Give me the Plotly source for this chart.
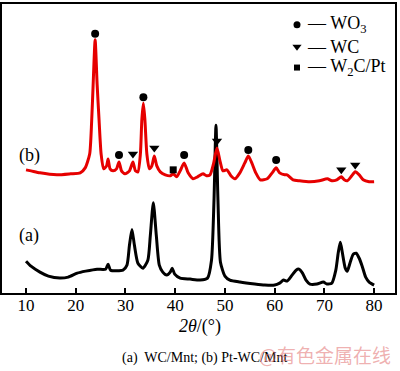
import plotly.graph_objects as go

# ---- data: curve (a) WC/Mnt (2theta, intensity a.u.) ----
a_x = [10, 11, 12.8, 14.5, 16.8, 18.5, 20.3, 22, 24.3, 26, 26.5, 27, 29.5, 30.3, 30.8, 31.3, 31.8, 32.5,
       33.5, 34.5, 35.0, 35.6, 36.2, 36.8, 37.5, 38.3, 39.0, 39.4, 39.9, 41, 43, 45, 46.5, 47.3, 47.8,
       48.2, 48.6, 49.1, 50, 51, 53, 56, 58, 60, 61, 61.8, 62.5, 63.5, 64.3, 64.9, 65.6, 66.3, 67.1,
       68.5, 69.8, 70.5, 71.5, 72.3, 72.8, 73.2, 73.6, 74.2, 74.6, 75.2, 75.8, 76.4, 77.0, 77.6, 78.3,
       79, 80]
a_y = [32, 27, 21, 17, 15, 16, 20, 22, 24, 24, 29, 23, 23, 28, 48, 64, 48, 30,
       25, 33, 58, 91, 58, 28, 21, 18, 21, 25, 19, 15, 14, 13, 15, 33, 93,
       169, 93, 31, 17, 13, 11, 9, 8, 8, 10, 13, 12, 18, 23, 24, 20, 13, 9,
       9, 11, 9, 10, 23, 41, 51, 41, 25, 22, 31, 39, 40, 35, 27, 16,
       11, 8]

# ---- data: curve (b) Pt-WC/Mnt ----
b_x = [10, 11, 12.8, 16.2, 19, 20.9, 21.9, 22.8, 23.2, 23.5, 23.9, 24.3, 24.7, 25.1, 25.6, 26.2, 26.5,
       26.9, 27.5, 28.2, 28.7, 29.2, 29.9, 30.8, 31.5, 32.0, 32.5, 33.0, 33.3, 33.6, 33.9, 34.3, 34.8,
       35.3, 35.8, 36.3, 37, 38, 39, 39.6, 40.3, 41.0, 41.8, 42.6, 43.6, 44.5, 45.6, 46.3, 47.0, 47.7,
       48.4, 49.0, 49.6, 50.4, 51.2, 52, 53.0, 54.0, 54.7, 55.4, 56.2, 57.1, 58.5, 59.5, 60.3, 61.0,
       62.0, 62.5, 63.7, 65, 67.1, 69, 70.6, 71.5, 72.5, 73.4, 74, 74.6, 75.5, 76.2, 77, 77.8, 79, 80]
b_y = [124, 123, 121, 119, 120, 121, 126, 140, 173, 210, 255, 210, 173, 140, 125, 128, 135,
       125, 123, 125, 132, 123, 120, 123, 132, 123, 122, 140, 175, 191, 175, 140, 125,
       128, 138, 128, 122, 119, 118, 120, 117, 123, 131, 121, 115, 117, 120, 118, 119, 130,
       146, 133, 123, 124, 118, 115, 121, 131, 138, 131, 121, 114, 115, 121, 126, 121,
       119, 119, 114, 113, 112, 113, 115, 113, 114, 117, 114, 113, 118, 122, 119, 114, 112, 112]

# ---- peak markers ----
wo3_x = [23.9, 28.7, 33.6, 41.8, 54.7, 60.3]
wo3_y = [261, 139, 197, 139, 144, 134]
wc_x = [31.5, 35.8, 48.4, 73.4, 76.2]
wc_y = [140, 146, 153, 124, 129]
w2c_x = [39.6]
w2c_y = [124]

legend_names = ["— WO<sub>3</sub>", "— WC", "— W<sub>2</sub>C/Pt"]
tick_vals = [10, 20, 30, 40, 50, 60, 70, 80]

XR = [5.17, 84.2]
YR = [0, 291]
SERIF = "Liberation Serif, Times New Roman, serif"

fig = go.Figure()
fig.add_trace(go.Scatter(x=a_x, y=a_y, mode="lines", line=dict(color="black", width=3, shape="spline", smoothing=0.6),
                         showlegend=False))
fig.add_trace(go.Scatter(x=b_x, y=b_y, mode="lines", line=dict(color="#e60000", width=3, shape="spline", smoothing=0.6),
                         showlegend=False))
fig.add_trace(go.Scatter(x=wo3_x, y=wo3_y, mode="markers",
                         marker=dict(symbol="circle", size=8, color="black"), showlegend=False))
fig.add_trace(go.Scatter(x=wc_x, y=wc_y, mode="markers",
                         marker=dict(symbol="triangle-down", size=9, color="black"), showlegend=False))
fig.add_trace(go.Scatter(x=w2c_x, y=w2c_y, mode="markers",
                         marker=dict(symbol="square", size=7, color="black"), showlegend=False))

# legend keys (layout positions in paper fraction converted to axis units)
def px_to_data(px, py):
    fx = (px - 2) / 393
    fy = (293 - py) / 291
    return XR[0] + fx * (XR[1] - XR[0]), YR[0] + fy * (YR[1] - YR[0])

key_syms = [("circle", 7), ("triangle-down", 8), ("square", 6)]
key_py = [23, 45, 66]
for (sym, sz), py in zip(key_syms, key_py):
    kx, ky = px_to_data(297, py)
    fig.add_trace(go.Scatter(x=[kx], y=[ky], mode="markers",
                             marker=dict(symbol=sym, size=sz, color="black"), showlegend=False))
for name, py in zip(legend_names, key_py):
    fig.add_annotation(x=(305 - 2) / 393, y=(293 - py) / 291, xref="paper", yref="paper",
                       text=name, showarrow=False, xanchor="left", yanchor="middle",
                       font=dict(family=SERIF, size=18, color="black"))

# curve labels
fig.add_annotation(x=(17 - 2) / 393, y=(293 - 155) / 291, xref="paper", yref="paper", text="(b)",
                   showarrow=False, font=dict(family=SERIF, size=18, color="black"))
fig.add_annotation(x=(17 - 2) / 393, y=(293 - 248) / 291, xref="paper", yref="paper", text="(a)",
                   showarrow=False, font=dict(family=SERIF, size=18, color="black"))

# axis title
fig.add_annotation(x=(200 - 2) / 393, y=(293 - 327) / 291, xref="paper", yref="paper",
                   text="<i>2θ</i>/(°)", showarrow=False, yanchor="middle",
                   font=dict(family=SERIF, size=18, color="black"))
# caption
fig.add_annotation(x=(120 - 2) / 393, y=(293 - 358) / 291, xref="paper", yref="paper",
                   text="(a)&nbsp; WC/Mnt; (b) Pt-WC/Mnt", showarrow=False, xanchor="left", yanchor="middle",
                   font=dict(family=SERIF, size=14, color="black"))
# watermark
fig.add_annotation(x=(257 - 2) / 393, y=(293 - 355) / 291, xref="paper", yref="paper",
                   text="@有色金属在线", showarrow=False, xanchor="left", yanchor="middle",
                   font=dict(family="Noto Sans CJK SC", size=19, color="rgba(225,110,110,0.55)"))

fig.update_xaxes(range=XR, tickvals=tick_vals, ticks="inside", ticklen=5, tickwidth=1.5, tickcolor="black",
                 showline=True, linewidth=1.5, linecolor="black", mirror=True, showgrid=False, zeroline=False,
                 ticklabelstandoff=-4,
                 tickfont=dict(family=SERIF, size=17, color="black"))
fig.update_yaxes(range=YR, showticklabels=False, ticks="", showline=True, linewidth=1.5, linecolor="black",
                 mirror=True, showgrid=False, zeroline=False)
fig.update_layout(width=400, height=371, margin=dict(l=2, r=5, t=2, b=78),
                  plot_bgcolor="white", paper_bgcolor="white")
fig.write_html("out.html", config={"displayModeBar": False},
               post_script="document.body.style.margin='0';document.body.style.padding='0';")
